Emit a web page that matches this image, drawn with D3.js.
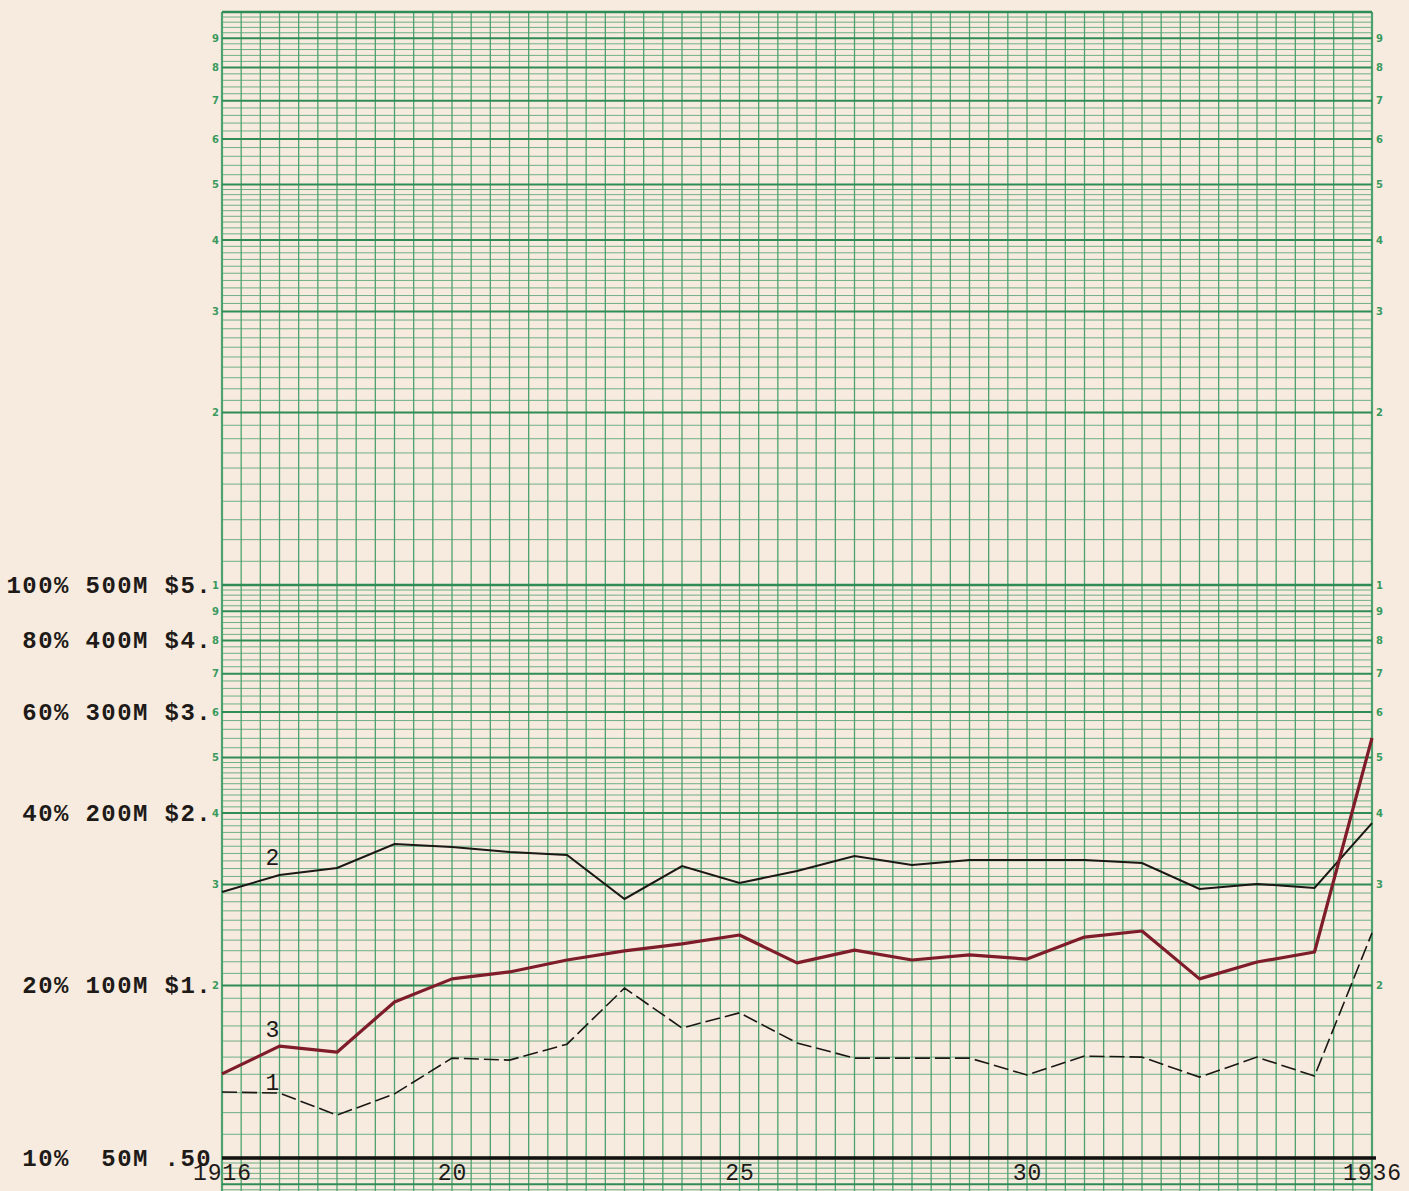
<!DOCTYPE html>
<html>
<head>
<meta charset="utf-8">
<script src="https://cdn.jsdelivr.net/npm/d3@7"></script>
<style>
  html, body { margin: 0; padding: 0; background: #f7ebdf; }
  svg { display: block; }
  .typed { font-family: "Liberation Mono", "DejaVu Sans Mono", monospace; fill: #1e1a18; white-space: pre; }
  .paper { font-family: "DejaVu Sans", "Noto Sans", sans-serif; font-weight: bold; fill: #3a9a5e; font-size: 10px; }
</style>
</head>
<body>
<svg id="chart" width="1409" height="1191"></svg>
<script>
// ---------------- DATA ----------------
const years = [1916, 1917, 1918, 1919, 1920, 1921, 1922, 1923, 1924, 1925, 1926,
               1927, 1928, 1929, 1930, 1931, 1932, 1933, 1934, 1935, 1936];

// values expressed on the "$" scale of the left axis (.50 .. $5 .. $50)
const series1 = [0.652, 0.649, 0.594, 0.647, 0.747, 0.741, 0.790, 0.990, 0.843, 0.896, 0.794,
                 0.747, 0.747, 0.747, 0.698, 0.753, 0.750, 0.692, 0.750, 0.695, 1.235];
const series2 = [1.456, 1.559, 1.604, 1.766, 1.744, 1.710, 1.690, 1.416, 1.616, 1.510, 1.584,
                 1.683, 1.623, 1.656, 1.656, 1.656, 1.636, 1.474, 1.504, 1.480, 1.921];
const series3 = [0.701, 0.784, 0.765, 0.936, 1.027, 1.056, 1.108, 1.149, 1.182, 1.225, 1.095,
                 1.153, 1.108, 1.131, 1.112, 1.215, 1.245, 1.027, 1.099, 1.144, 2.704];

const seriesNames = ["1", "2", "3"];

const leftTickValues = [5, 4, 3, 2, 1, 0.5];
const leftTickLabels = ["100% 500M $5.", "80% 400M $4.", "60% 300M $3.", "40% 200M $2.", "20% 100M $1.", "10%  50M .50"];

const yearTickValues = [1916, 1920, 1925, 1930, 1936];
const yearTickLabels = ["1916", "20", "25", "30", "1936"];

const paperDigits = [2, 3, 4, 5, 6, 7, 8, 9];
const cycleBases = [0.05, 0.5, 5];

// ---------------- LAYOUT ----------------
const W = 1409, H = 1191;
const svg = d3.select("#chart");
const x = d3.scaleLinear().domain([1916, 1936]).range([222, 1372]);
const y = d3.scaleLog().domain([0.5, 50]).range([1158, 12]);
const gridTop = y(50);

svg.append("rect").attr("width", W).attr("height", H).attr("fill", "#f7ebdf");

const green = "#4ea26f";
const greenDark = "#2f8c55";

// --- paper grid: horizontal lines ---
const minorVals = [], majorVals = [], cycleVals = [];
cycleBases.forEach(b => {
  for (let k = 11; k < 100; k++) {
    const p = k / 10;
    if (k % 10 === 0) { majorVals.push(b * p); continue; }
    if (p > 5 && (k % 2 === 1)) continue;
    minorVals.push(b * p);
  }
  cycleVals.push(b);
});
cycleVals.push(50);

const gGrid = svg.append("g");
const inView = v => y(v) >= gridTop - 0.5 && y(v) <= H + 2;

gGrid.selectAll("line.minor").data(minorVals.filter(inView)).join("line")
  .attr("x1", x(1916)).attr("x2", x(1936))
  .attr("y1", d => y(d)).attr("y2", d => y(d))
  .attr("stroke", green).attr("stroke-width", 1).attr("opacity", 0.8);

// vertical lines (thirds of a year)
const vLines = [];
for (let i = 0; i <= 60; i++) vLines.push(1916 + i / 3);
gGrid.selectAll("line.v").data(vLines).join("line")
  .attr("x1", d => x(d)).attr("x2", d => x(d))
  .attr("y1", gridTop).attr("y2", H)
  .attr("stroke", green).attr("stroke-width", (d, i) => (i === 0 || i === 60) ? 2.2 : 1.3);

gGrid.selectAll("line.major").data(majorVals.filter(inView)).join("line")
  .attr("x1", x(1916)).attr("x2", x(1936))
  .attr("y1", d => y(d)).attr("y2", d => y(d))
  .attr("stroke", greenDark).attr("stroke-width", 2);

gGrid.selectAll("line.cycle").data(cycleVals.filter(inView)).join("line")
  .attr("x1", x(1916)).attr("x2", x(1936))
  .attr("y1", d => y(d)).attr("y2", d => y(d))
  .attr("stroke", greenDark).attr("stroke-width", 2.6);

// paper digits (printed on the sheet)
const digitData = [];
[0.5, 5].forEach(b => paperDigits.forEach(p => digitData.push({v: b * p, t: String(p)})));
digitData.push({v: 5, t: "1"});
const gDig = svg.append("g");
gDig.selectAll("text.l").data(digitData).join("text").attr("class", "paper")
  .attr("x", x(1916) - 3).attr("y", d => y(d.v)).attr("dy", "0.35em").attr("text-anchor", "end").text(d => d.t);
gDig.selectAll("text.r").data(digitData).join("text").attr("class", "paper")
  .attr("x", x(1936) + 4).attr("y", d => y(d.v)).attr("dy", "0.35em").attr("text-anchor", "start").text(d => d.t);

// --- typed left axis ---
const yAxis = d3.axisLeft(y).tickValues(leftTickValues)
  .tickFormat((d, i) => leftTickLabels[i]).tickSize(0).tickPadding(0);
const gY = svg.append("g").attr("transform", "translate(212,0)").call(yAxis);
gY.select(".domain").remove();
gY.selectAll("text").attr("class", "typed").attr("font-size", 24).attr("font-weight", "bold")
  .attr("letter-spacing", 1.4).attr("fill", "#1e1a18").attr("dy", "0.3em")
  .style("font-family", '"Liberation Mono", monospace').style("white-space", "pre");

// --- bottom axis: heavy baseline and years ---
svg.append("line").attr("x1", x(1916)).attr("x2", x(1936) + 4)
  .attr("y1", y(0.5)).attr("y2", y(0.5)).attr("stroke", "#141210").attr("stroke-width", 3.5);

const xAxis = d3.axisBottom(x).tickValues(yearTickValues)
  .tickFormat((d, i) => yearTickLabels[i]).tickSize(0).tickPadding(0);
const gX = svg.append("g").attr("transform", "translate(0,1162)").call(xAxis);
gX.select(".domain").remove();
gX.selectAll("text").attr("class", "typed").attr("font-size", 23).attr("letter-spacing", 1)
  .attr("fill", "#1e1a18").attr("dy", "0.78em")
  .style("font-family", '"Liberation Mono", monospace');

// --- series ---
const line = d3.line().x((d, i) => x(years[i])).y(d => y(d));
svg.append("path").datum(series1).attr("d", line).attr("fill", "none")
  .attr("stroke", "#1a1714").attr("stroke-width", 1.6).attr("stroke-dasharray", "15,5");
svg.append("path").datum(series2).attr("d", line).attr("fill", "none")
  .attr("stroke", "#1a1714").attr("stroke-width", 2);
svg.append("path").datum(series3).attr("d", line).attr("fill", "none")
  .attr("stroke", "#7e1c2a").attr("stroke-width", 3.2).attr("stroke-linejoin", "round");

// series labels (typed numbers placed near each curve at 1917)
const labelPos = [
  {name: seriesNames[0], v: series1[1], off: -3},
  {name: seriesNames[1], v: series2[1], off: -10},
  {name: seriesNames[2], v: series3[1], off: -9}
];
svg.selectAll("text.sname").data(labelPos).join("text").attr("class", "typed")
  .attr("x", x(1917) - 14).attr("y", d => y(d.v) + d.off)
  .attr("font-size", 23).attr("fill", "#26211e")
  .style("font-family", '"Liberation Mono", monospace').text(d => d.name);
</script>
</body>
</html>
